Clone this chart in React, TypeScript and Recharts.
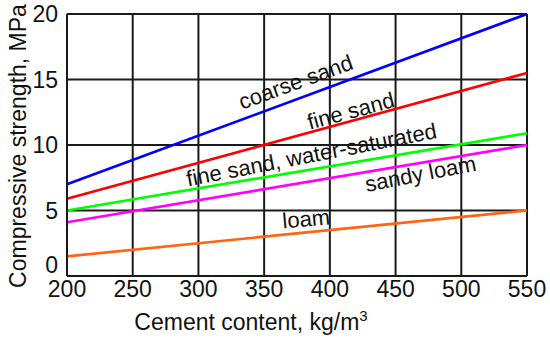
import React from 'react';
import { LineChart, Line, XAxis, YAxis, CartesianGrid, ReferenceDot } from 'recharts';

const cement = [200, 550];
const coarseSand = [7.0, 20.0];
const fineSand = [5.9, 15.5];
const fineSandWet = [5.0, 10.9];
const sandyLoam = [4.1, 10.0];
const loam = [1.5, 5.0];

const xTicks = [200, 250, 300, 350, 400, 450, 500, 550];
const yTicks = [0, 5, 10, 15, 20];

const series = [
  { key: 'coarse', values: coarseSand, color: '#0000ff' },
  { key: 'fine', values: fineSand, color: '#ff0000' },
  { key: 'wet', values: fineSandWet, color: '#00ff00' },
  { key: 'sandyLoam', values: sandyLoam, color: '#ff00ff' },
  { key: 'loam', values: loam, color: '#ff6410' },
];

// label text, anchor point in data units, rotation in degrees
const labels = [
  { text: 'coarse sand', x: 374, y: 14.8, angle: -20 },
  { text: 'fine sand', x: 416, y: 12.6, angle: -15 },
  { text: 'fine sand, water-saturated', x: 386, y: 9.25, angle: -11 },
  { text: 'sandy loam', x: 469, y: 7.8, angle: -11 },
  { text: 'loam', x: 382, y: 4.35, angle: -5 },
];

const data = cement.map((c, i) => {
  const row: Record<string, number> = { cement: c };
  series.forEach((s) => (row[s.key] = s.values[i]));
  return row;
});

const font = 'Arial, "Liberation Sans", sans-serif';

function XTitle(props: any) {
  const { viewBox } = props;
  const cx = viewBox.x + viewBox.width / 2;
  return (
    <text x={cx - 46} y={viewBox.y + 54} textAnchor="middle" fontSize={23} fill="#111" fontFamily={font}>
      Cement content, kg/m<tspan dy={-9} fontSize={15}>3</tspan>
    </text>
  );
}

function YTitle(props: any) {
  const { viewBox } = props;
  const cy = viewBox.y + viewBox.height / 2;
  return (
    <text x={0} y={0} transform={`translate(26, ${cy + 1}) rotate(-90)`} textAnchor="middle" fontSize={23} fill="#111" fontFamily={font}>
      Compressive strength, MPa
    </text>
  );
}

function YTick(props: any) {
  const { x, y, payload } = props;
  // the zero label sits a little above the axis in the original
  const shift = payload.value === 0 ? -11 : 0;
  return (
    <text x={x} y={y + shift} dy="0.355em" textAnchor="end" fontSize={23} fill="#111" fontFamily={font}>
      {payload.value}
    </text>
  );
}

export default function App() {
  return (
    <div style={{ position: 'absolute', left: 0, top: 0, background: '#fff' }}>
      <LineChart width={550} height={342} data={data} margin={{ top: 14, right: 23, left: 0, bottom: 0 }}>
        <CartesianGrid stroke="#1a1a1a" strokeWidth={2} />
        <XAxis
          dataKey="cement"
          type="number"
          domain={[200, 550]}
          ticks={xTicks}
          tickLine={false}
          tickSize={0}
          axisLine={{ stroke: '#1a1a1a', strokeWidth: 2 }}
          tick={{ fill: '#111', fontSize: 23, fontFamily: font }}
          tickMargin={5}
          height={66}
          label={<XTitle />}
        />
        <YAxis
          type="number"
          domain={[0, 20]}
          ticks={yTicks}
          tickLine={false}
          tickSize={0}
          axisLine={{ stroke: '#1a1a1a', strokeWidth: 2 }}
          tick={<YTick />}
          tickMargin={9}
          width={67}
          label={<YTitle />}
        />
        {series.map((s) => (
          <Line
            key={s.key}
            dataKey={s.key}
            stroke={s.color}
            strokeWidth={2.7}
            dot={false}
            activeDot={false}
            isAnimationActive={false}
          />
        ))}
        {labels.map((l) => (
          <ReferenceDot
            key={l.text}
            x={l.x}
            y={l.y}
            r={0}
            shape={(p: any) => (
              <text
                x={p.cx}
                y={p.cy}
                transform={`rotate(${l.angle}, ${p.cx}, ${p.cy})`}
                textAnchor="middle"
                dominantBaseline="central"
                fontSize={22}
                fill="#111"
                fontFamily={font}
              >
                {l.text}
              </text>
            )}
          />
        ))}
      </LineChart>
    </div>
  );
}
